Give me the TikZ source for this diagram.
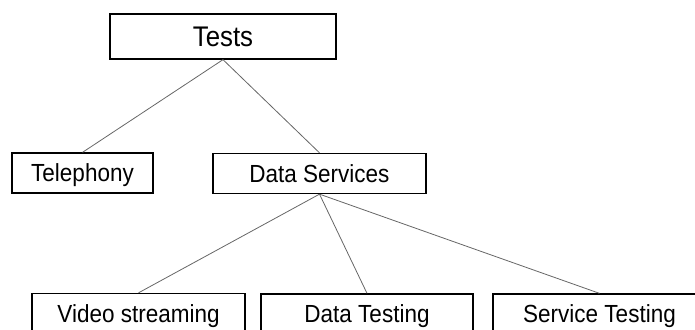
\documentclass[tikz,border=0pt]{standalone}
\usepackage{fontspec}
\usepackage{graphicx}
\setmainfont{Liberation Sans}
\newcommand{\tall}[1]{\scalebox{1}[1.1]{#1}}
\tikzset{
  testbox/.style={draw=black, line width=1.3pt, fill=white, inner sep=0pt,
    minimum width=213pt, minimum height=40pt, text height=17.7pt, text depth=0pt,
    font=\fontsize{22.5}{26}\selectfont},
  link/.style={draw=black!60, line width=0.8pt}
}
\begin{document}
\begin{tikzpicture}[x=1pt, y=-1pt]
			% Frame
			\useasboundingbox (0,0) rectangle (695,329);
			
			% Root
			\node[testbox, minimum width=226pt, minimum height=45pt, text height=20pt,
			  font=\fontsize{25.8}{30}\selectfont] (tests) at (223,36.5) {\tall{Tests}};
			
			% Second level
			\node[testbox, minimum width=141pt] (telephony) at (82.5,173) {\tall{Telephony}};
			\node[testbox] (dataserv) at (319.5,173.5) {\tall{Data Services}};
			
			% Third level
			\node[testbox] (video) at (138.5,313.5) {\tall{Video streaming}};
			\node[testbox, minimum width=212pt] (datatest) at (367,314) {\tall{Data Testing}};
			\node[testbox] (servtest) at (599.5,314) {\tall{Service Testing}};
			
			% Links
			\draw[link] (tests.south) -- (telephony.north);
			\draw[link] (tests.south) -- (dataserv.north);
			\draw[link] (dataserv.south) -- (video.north);
			\draw[link] (dataserv.south) -- (datatest.north);
			\draw[link] (dataserv.south) -- (servtest.north);
		\end{tikzpicture}
\end{document}
